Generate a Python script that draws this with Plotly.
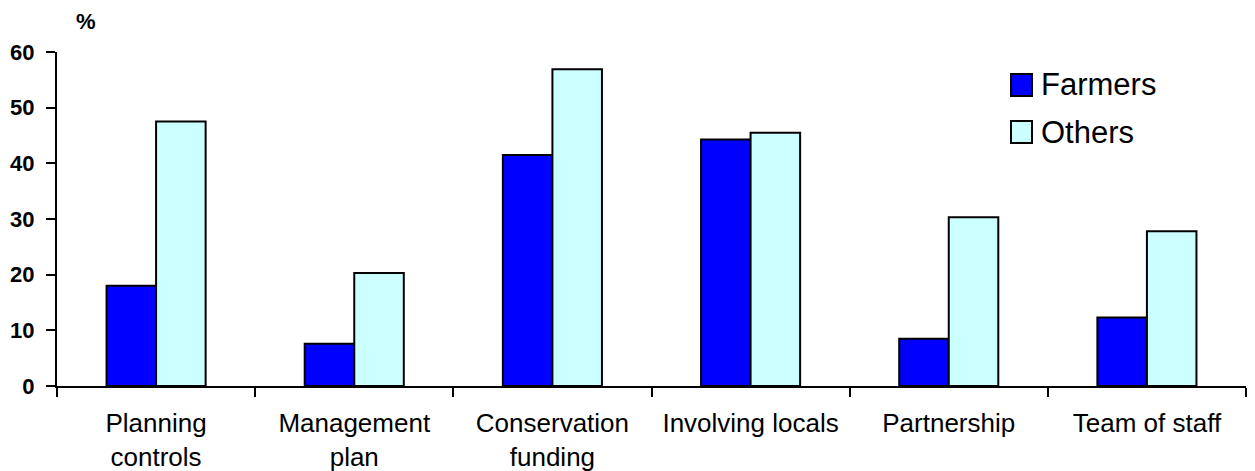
import plotly.graph_objects as go

# Survey responses (% of respondents) by group
categories = ["Planning<br>controls", "Management<br>plan", "Conservation<br>funding",
              "Involving locals", "Partnership", "Team of staff"]
farmers = [18.0, 7.6, 41.5, 44.3, 8.5, 12.3]
others = [47.5, 20.3, 56.9, 45.5, 30.3, 27.8]
y_ticks = [0, 10, 20, 30, 40, 50, 60]

W, H = 1255, 471
L, R, T, B = 57, 9, 52, 85
FONT = "Arial, Liberation Sans, sans-serif"


def px_x(p):
    return (p - L) / (W - L - R)


def px_y(p):
    return (H - B - p) / (H - T - B)


fig = go.Figure()
fig.add_trace(go.Bar(x=categories, y=farmers, name="Farmers",
                     marker=dict(color="#0000FF", line=dict(color="black", width=2))))
fig.add_trace(go.Bar(x=categories, y=others, name="Others",
                     marker=dict(color="#CCFFFF", line=dict(color="black", width=2))))

# Legend drawn as shapes + text so the swatches match the large label font
legend_items = [("Farmers", "#0000FF", 85), ("Others", "#CCFFFF", 132)]
for label, color, cy in legend_items:
    fig.add_shape(type="rect", xref="paper", yref="paper",
                  x0=px_x(1011), x1=px_x(1032), y0=px_y(cy + 11), y1=px_y(cy - 11),
                  fillcolor=color, line=dict(color="black", width=2))
    fig.add_annotation(text=label, xref="paper", yref="paper", x=px_x(1039), y=px_y(cy),
                       xanchor="left", yanchor="middle", showarrow=False,
                       font=dict(family=FONT, size=31, color="black"))

fig.add_annotation(text="<b>%</b>", xref="paper", yref="paper", x=px_x(86), y=px_y(21),
                   xanchor="center", yanchor="middle", showarrow=False,
                   font=dict(family=FONT, size=22, color="black"))

fig.update_layout(
    width=W, height=H,
    margin=dict(l=L, r=R, t=T, b=B, pad=0, autoexpand=False),
    paper_bgcolor="white", plot_bgcolor="white",
    barmode="group", bargap=0.5, bargroupgap=0,
    showlegend=False,
    font=dict(family=FONT, color="black"),
)
fig.update_xaxes(
    automargin=False,
    showline=True, linecolor="black", linewidth=2,
    ticks="outside", tickson="boundaries", ticklen=9, tickwidth=2, tickcolor="black",
    ticklabelstandoff=13,
    tickfont=dict(family=FONT, size=26, color="black"),
    showgrid=False, zeroline=False,
)
fig.update_yaxes(
    automargin=False,
    range=[0, 60], tickvals=y_ticks, ticktext=[f"<b>{v}</b>" for v in y_ticks],
    showline=True, linecolor="black", linewidth=2,
    ticks="outside", ticklen=9, tickwidth=2, tickcolor="black",
    ticklabelstandoff=7,
    tickfont=dict(family=FONT, size=22, color="black"),
    showgrid=False, zeroline=False,
)

fig.write_html("out.html")
